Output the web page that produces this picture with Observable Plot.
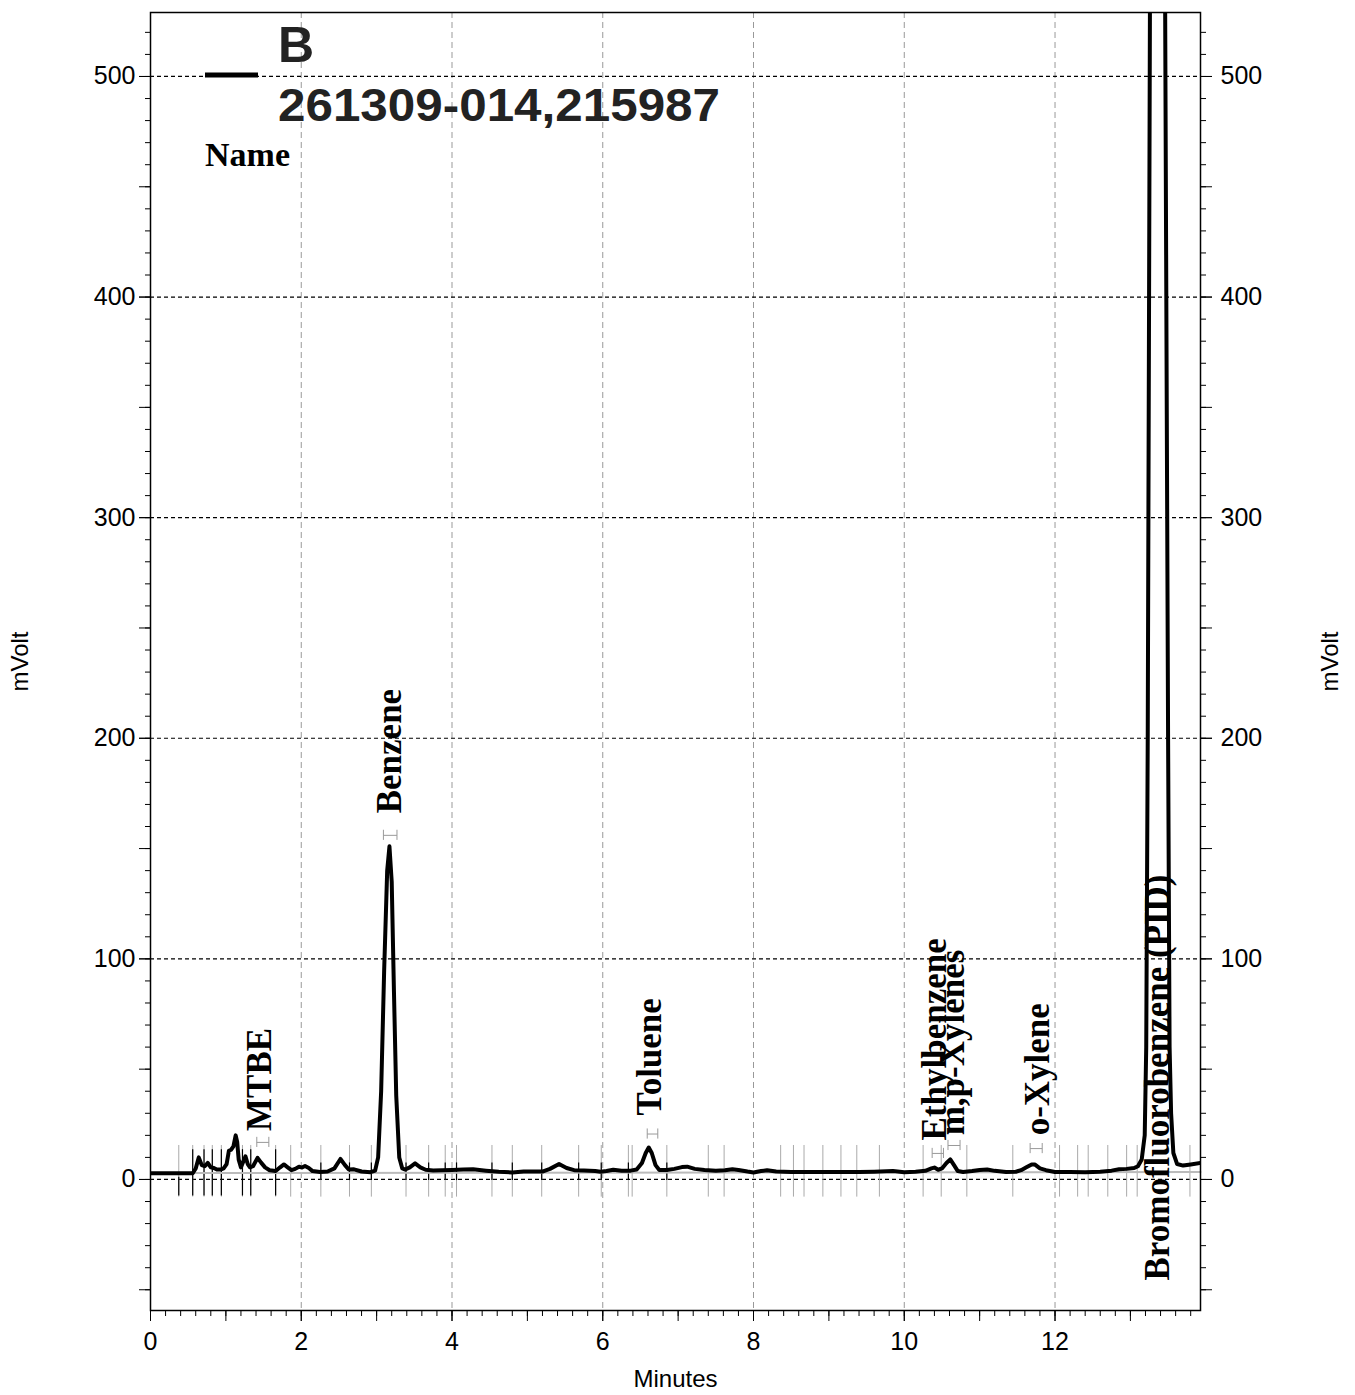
<!DOCTYPE html>
<html>
<head>
<meta charset="utf-8">
<script src="https://cdn.jsdelivr.net/npm/d3@7"></script>
<script src="https://cdn.jsdelivr.net/npm/@observablehq/plot@0.6"></script>
<style>
  html, body { margin: 0; padding: 0; background: #fff; }
  #chart { position: relative; width: 1355px; height: 1395px; }
</style>
</head>
<body>
<div id="chart"></div>
<script>
// ---- Chromatogram trace (minutes, mVolt) ----
const times = [0.00,0.56,0.60,0.64,0.68,0.72,0.76,0.80,0.84,0.88,0.93,0.97,1.01,1.04,1.07,1.10,1.13,1.15,1.17,1.20,
  1.23,1.26,1.29,1.32,1.36,1.42,1.47,1.52,1.58,1.66,1.72,1.77,1.82,1.87,1.92,1.97,2.01,2.05,2.10,2.15,
  2.25,2.35,2.44,2.52,2.58,2.63,2.70,2.80,2.92,2.98,3.02,3.06,3.10,3.14,3.17,3.20,3.23,3.26,3.30,3.34,
  3.38,3.44,3.51,3.58,3.65,3.75,3.87,4.00,4.15,4.28,4.45,4.62,4.80,4.95,5.10,5.20,5.30,5.42,5.52,5.62,
  5.75,5.90,5.97,6.05,6.14,6.25,6.37,6.45,6.52,6.57,6.61,6.65,6.70,6.75,6.85,6.95,7.05,7.12,7.22,7.35,
  7.50,7.62,7.72,7.80,7.92,8.00,8.10,8.18,8.30,8.50,8.80,9.10,9.40,9.60,9.85,10.00,10.15,10.28,10.36,10.40,
  10.45,10.50,10.56,10.61,10.66,10.71,10.78,10.90,11.00,11.10,11.20,11.35,11.48,11.55,11.62,11.69,11.73,11.80,11.88,12.00,
  12.20,12.40,12.60,12.75,12.85,12.95,13.05,13.10,13.15,13.19,13.21,13.23,13.26,13.30,13.36,13.42,13.46,13.50,13.52,13.54,
  13.57,13.62,13.70,13.80,13.93];
const mV = [2.8,2.8,5,10,6.5,6,7.5,5.5,5.2,4.5,4.5,5,7,13,13.5,15,20,17,9,5.5,
  8,10.5,7,5.5,6,9.8,7.5,5.5,4.2,3.8,5.5,6.8,5.5,4.2,4.8,5.8,5.4,6.1,5.2,3.8,
  3.4,3.6,5,9.3,6.5,4.5,4.6,3.6,3.3,4,10,40,95,140,151,135,85,38,10,5,
  4.5,5.5,7.3,5.5,4.4,4.1,4.2,4.3,4.5,4.6,4.0,3.5,3.2,3.6,3.6,3.6,4.8,7,5.2,4.2,
  4.1,3.8,3.5,3.8,4.4,4.0,4.0,4.5,7.5,12,14.5,12,6.5,4.3,4.3,4.8,5.6,5.8,4.8,4.3,
  4.0,4.2,4.6,4.3,3.6,3.2,3.8,4.2,3.6,3.4,3.4,3.4,3.4,3.5,3.8,3.3,3.5,3.9,5,5.4,
  4.4,5,7.5,9.1,6.5,3.8,3.4,3.8,4.3,4.5,3.9,3.4,3.5,4.2,5.5,6.8,6.8,5,4.2,3.4,
  3.4,3.3,3.5,4.0,4.6,4.8,5.2,6,9,20,60,200,540,1200,1700,1200,540,200,60,30,
  12,7,6.3,6.8,7.5];

// integration baseline
const baseT = [0.57, 13.93];
const baseV = [2.9, 3.4];

// ---- Peak names and label anchor positions ----
const peakNames = ["MTBE","Benzene","Toluene","Ethylbenzene","m,p-Xylenes","o-Xylene","Bromofluorobenzene (PID)"];
const peakLabelT = [1.45, 3.17, 6.62, 10.41, 10.64, 11.77, 13.37];
const peakLabelV = [22, 166, 29, 17.7, 20, 20, -45.8];

// peak window brackets
const brT1 = [1.41, 3.09, 6.59, 10.37, 10.58, 11.67];
const brT2 = [1.57, 3.27, 6.73, 10.52, 10.74, 11.83];
const brV  = [16.8, 156, 20.6, 11.8, 15.4, 14];

// event markers
const evGray = [0.375,0.56,0.71,0.82,0.94,1.22,1.33,1.66,1.86,2.26,2.64,2.93,3.39,3.69,3.91,4.06,4.53,4.80,5.19,5.68,5.98,
  6.34,6.39,6.85,7.40,7.61,8.36,8.53,8.67,8.92,9.16,9.37,9.67,10.25,10.49,10.83,11.44,12.06,12.30,12.44,12.70,12.95,13.09,13.79];
const evBlackLong = [0.375,0.56,0.71,0.82,0.94,1.22,1.33,1.66];
const evBlackShort = [2.26,2.64,2.93,3.39,3.69,3.91,4.06,4.53,4.80,5.19,5.68,5.98,6.34,6.85];

// axes
const xTickLabels = [0,2,4,6,8,10,12];
const yTickLabels = [0,100,200,300,400,500];
const yMinor = d3.range(-50, 530, 10);
const yMid = d3.range(-50, 530, 50);
const xMinor = d3.range(0, 13.9, 0.2);
const xMid = d3.range(0, 14, 1);

// legend
const legendSeries = "B";
const legendSample = "261309-014,215987";
const legendHeader = "Name";

// ---- tables ----
const trace = times.map((t, i) => ({t, v: mV[i]}));
const baseline = baseT.map((t, i) => ({t, v: baseV[i]}));
const labels = peakNames.map((name, i) => ({name, t: peakLabelT[i], v: peakLabelV[i]}));
const brackets = brT1.map((t1, i) => ({t1, t2: brT2[i], v: brV[i]}));
const bracketCaps = brackets.flatMap(b => [{t: b.t1, v: b.v}, {t: b.t2, v: b.v}]);

const sans = "'Liberation Sans', Arial, sans-serif";
const serif = "'Liberation Serif', 'Times New Roman', serif";

const plot = Plot.plot({
  width: 1355,
  height: 1395,
  marginLeft: 150,
  marginRight: 155,
  marginTop: 12,
  marginBottom: 85,
  style: {fontFamily: sans, fontSize: "24px", background: "#fff", color: "#000", overflow: "visible"},
  x: {domain: [0, 13.93]},
  y: {domain: [-59.4, 529]},
  marks: [
    Plot.ruleX(xTickLabels.filter(d => d > 0), {stroke: "#999", strokeDasharray: "6,4", strokeWidth: 1}),
    Plot.ruleY(yTickLabels, {stroke: "#000", strokeDasharray: "4,3", strokeWidth: 1.2}),
    // event markers
    Plot.ruleX(evGray, {x: d => d, y1: -8, y2: 15.4, stroke: "#aaa", strokeWidth: 1}),
    Plot.ruleX(evBlackLong, {x: d => d, y1: -7.5, y2: (d, i) => i === 0 ? 1 : 13.5, stroke: "#000", strokeWidth: 1.2}),
    Plot.ruleX(evBlackShort, {x: d => d, y1: -0.5, y2: 7.5, stroke: "#000", strokeWidth: 1.2}),
    // baseline
    Plot.line(baseline, {x: "t", y: "v", stroke: "#bbb", strokeWidth: 2}),
    // brackets
    Plot.link(brackets, {x1: "t1", x2: "t2", y1: "v", y2: "v", stroke: "#999", strokeWidth: 1}),
    Plot.ruleX(bracketCaps, {x: "t", y1: d => d.v - 2.3, y2: d => d.v + 2.3, stroke: "#999", strokeWidth: 1}),
    // trace
    Plot.line(trace, {x: "t", y: "v", stroke: "#000", strokeWidth: 4, strokeLinejoin: "round", clip: true}),
    // peak labels
    Plot.text(labels, {x: "t", y: "v", text: "name", rotate: -90, textAnchor: "start", lineAnchor: "middle",
      fontFamily: serif, fontWeight: "bold", fontSize: 35, fill: "#000"}),
    // axes
    Plot.axisY(yMinor, {anchor: "left", tickSize: 5, text: null, label: null}),
    Plot.axisY(yMid, {anchor: "left", tickSize: 11, text: null, label: null}),
    Plot.axisY(yTickLabels, {anchor: "left", tickSize: 11, tickPadding: 4, label: null, fontSize: 25}),
    Plot.axisY(yMinor, {anchor: "right", tickSize: 5, text: null, label: null}),
    Plot.axisY(yMid, {anchor: "right", tickSize: 11, text: null, label: null}),
    Plot.axisY(yTickLabels, {anchor: "right", tickSize: 11, tickPadding: 9, label: null, fontSize: 25}),
    Plot.axisX(xMinor, {anchor: "bottom", tickSize: 6, text: null, label: null}),
    Plot.axisX(xMid, {anchor: "bottom", tickSize: 11, text: null, label: null}),
    Plot.axisX(xTickLabels, {anchor: "bottom", tickSize: 11, tickPadding: 11, label: null, fontSize: 25}),
    Plot.frame({stroke: "#000", strokeWidth: 1.5}),
    // axis titles
    Plot.text(["mVolt"], {frameAnchor: "left", dx: -130, rotate: -90, textAnchor: "middle", fontSize: 24, fontFamily: sans}),
    Plot.text(["mVolt"], {frameAnchor: "right", dx: 130, rotate: -90, textAnchor: "middle", fontSize: 24, fontFamily: sans}),
    Plot.text(["Minutes"], {frameAnchor: "bottom", dy: 76, textAnchor: "middle", fontSize: 24, fontFamily: sans})
  ]
});

document.getElementById("chart").append(plot);

// ---- legend (inside the plot area, top-left) ----
const svg = d3.select(plot);
const lg = svg.append("g").attr("class", "legend").attr("text-anchor", "start");
lg.append("line").attr("x1", 205).attr("x2", 258).attr("y1", 75).attr("y2", 75)
  .attr("stroke", "#000").attr("stroke-width", 5);
lg.append("text").attr("x", 278).attr("y", 62).text(legendSeries).attr("text-anchor", "start")
  .attr("font-family", sans).attr("font-weight", "bold").attr("font-size", 50).attr("fill", "#222");
lg.append("text").attr("x", 278).attr("y", 121).text(legendSample).attr("text-anchor", "start")
  .attr("font-family", sans).attr("font-weight", "bold").attr("font-size", 46).attr("fill", "#222")
  .attr("textLength", 442).attr("lengthAdjust", "spacingAndGlyphs");
lg.append("text").attr("x", 205).attr("y", 166).text(legendHeader).attr("text-anchor", "start")
  .attr("font-family", serif).attr("font-weight", "bold").attr("font-size", 34).attr("fill", "#000");
</script>
</body>
</html>
